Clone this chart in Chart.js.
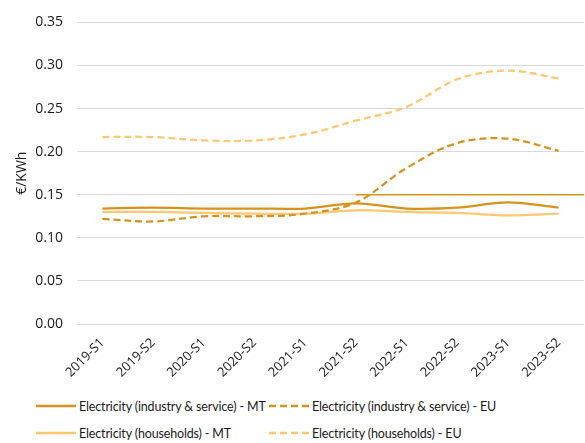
<!DOCTYPE html>
<html>
<head>
<meta charset="utf-8">
<script src="https://cdn.jsdelivr.net/npm/chart.js@4"></script>
<style>
  html, body { margin: 0; padding: 0; background: #fff; }
  body { width: 585px; height: 443px; position: relative; overflow: hidden; font-family: Lato, 'Open Sans', sans-serif; }
  #wrap { position: absolute; left: 0; top: 0; width: 585px; height: 392px; }
  .leg { position: absolute; display: flex; align-items: center; font-size: 12.5px; letter-spacing: -0.15px; color: #1a1a1a; white-space: nowrap; }
  .leg svg { margin-right: 3px; }
</style>
</head>
<body>
<div id="wrap"><canvas id="chart"></canvas></div>
<div id="legend"></div>

<script>
// Periodos semestrales
const periodos = ['2019-S1','2019-S2','2020-S1','2020-S2','2021-S1','2021-S2','2022-S1','2022-S2','2023-S1','2023-S2'];

// Precios €/KWh
const indMT = [0.134, 0.135, 0.134, 0.134, 0.134, 0.140, 0.134, 0.135, 0.141, 0.135];
const indEU = [0.122, 0.119, 0.125, 0.125, 0.128, 0.141, 0.181, 0.210, 0.215, 0.201];
const hogMT = [0.130, 0.130, 0.129, 0.128, 0.128, 0.132, 0.130, 0.129, 0.126, 0.128];
const hogEU = [0.217, 0.217, 0.213, 0.213, 0.220, 0.236, 0.252, 0.284, 0.294, 0.285];

// Línea de referencia horizontal
const nivelRef  = 0.15;
const inicioRef = '2021-S2';

const yTicks = [0, 0.05, 0.10, 0.15, 0.20, 0.25, 0.30, 0.35];

const OSCURO = '#D8921C';
const CLARO  = '#FFC772';
const FUENTE = "'Open Sans', sans-serif";

const series = [
  { label: 'Electricity (industry & service) - MT', data: indMT, color: OSCURO, dash: [] },
  { label: 'Electricity (industry & service) - EU', data: indEU, color: OSCURO, dash: [7, 4] },
  { label: 'Electricity (households) - MT',         data: hogMT, color: CLARO,  dash: [] },
  { label: 'Electricity (households) - EU',         data: hogEU, color: CLARO,  dash: [7, 4] },
];

// ── línea de referencia desde inicioRef hasta el borde derecho ──
const lineaRef = {
  id: 'lineaRef',
  beforeDatasetsDraw(chart) {
    const { ctx, chartArea, scales } = chart;
    const y  = scales.y.getPixelForValue(nivelRef);
    const x0 = scales.x.getPixelForValue(periodos.indexOf(inicioRef));
    ctx.save();
    ctx.strokeStyle = OSCURO;
    ctx.lineWidth = 1.5;
    ctx.beginPath();
    ctx.moveTo(x0, y);
    ctx.lineTo(chartArea.right, y);
    ctx.stroke();
    ctx.restore();
  }
};

new Chart(document.getElementById('chart').getContext('2d'), {
  type: 'line',
  data: {
    labels: periodos,
    datasets: series.map(s => ({
      label: s.label,
      data: s.data,
      borderColor: s.color,
      backgroundColor: s.color,
      borderDash: s.dash,
      borderWidth: 2.25,
      pointRadius: 0,
      tension: 0.35,
      fill: false,
    }))
  },
  options: {
    responsive: true,
    maintainAspectRatio: false,
    animation: false,
    layout: { padding: { top: 12, right: 1, left: 0, bottom: 0 } },
    plugins: { legend: { display: false }, tooltip: { enabled: false } },
    scales: {
      x: {
        offset: true,
        grid: { display: false },
        border: { display: false },
        afterFit: s => { s.height = 68; },
        ticks: { minRotation: 45, maxRotation: 45, color: '#1a1a1a', font: { family: FUENTE, size: 13 } }
      },
      y: {
        min: 0,
        max: 0.35,
        afterFit: s => { s.width = 77; },
        afterBuildTicks: s => { s.ticks = yTicks.map(v => ({ value: v })); },
        grid: { color: '#d9d9d9', lineWidth: 1, drawTicks: false },
        border: { display: false },
        title: { display: true, text: '€/KWh', color: '#1a1a1a', font: { family: FUENTE, size: 14 }, padding: { top: 14, bottom: 0 } },
        ticks: { padding: 14, color: '#1a1a1a', font: { family: FUENTE, size: 14 }, callback: v => v.toFixed(2) }
      }
    }
  },
  plugins: [lineaRef]
});

// ── leyenda en dos columnas ──
const posLeyenda = [
  { left: 36,  top: 396 },
  { left: 269, top: 396 },
  { left: 36,  top: 423 },
  { left: 269, top: 423 },
];
document.getElementById('legend').innerHTML = series.map((s, i) => `
  <div class="leg" style="left:${posLeyenda[i].left}px;top:${posLeyenda[i].top}px;height:20px;">
    <svg width="40" height="6"><line x1="0" y1="3" x2="40" y2="3" stroke="${s.color}" stroke-width="2.5"
      ${s.dash.length ? `stroke-dasharray="${s.dash.join(',')}"` : ''}/></svg>${s.label}
  </div>`).join('');
</script>
</body>
</html>
